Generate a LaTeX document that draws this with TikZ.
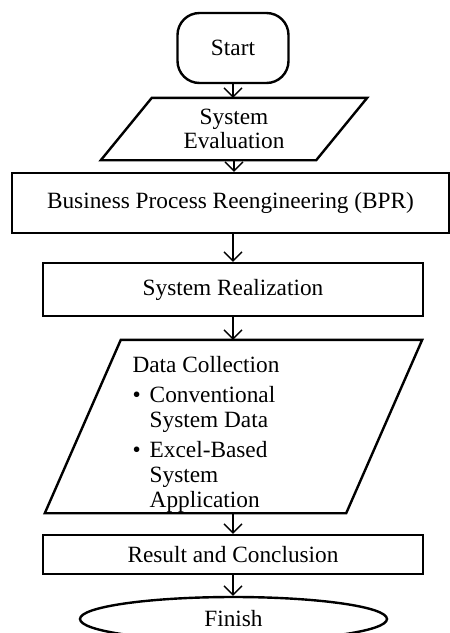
\documentclass[tikz,border=0pt]{standalone}
\usepackage{fontspec}
\setmainfont{Liberation Serif}
\usetikzlibrary{arrows.meta, shapes.geometric}

\begin{document}
\begin{tikzpicture}[x=1pt, y=-1pt,
        txt/.style={font=\fontsize{23.3}{27}\selectfont, align=center, inner sep=0pt},
        outline/.style={line width=2.4pt},
        box/.style={txt, draw, outline},
        arr/.style={-{Straight Barb[length=9pt, width=18pt]}, line width=1.3pt}]
    \useasboundingbox (0,0) rectangle (450,633);
    \node[box, rounded corners=22pt, minimum width=111pt, minimum height=70pt] (start) at (233,48) {Start};
    \node[txt, font=\fontsize{23.3}{24}\selectfont, minimum width=266pt, minimum height=62pt] (eval) at (234,129) {System\\Evaluation};
    \draw[outline] ([xshift=51pt]eval.north west) -- (eval.north east) -- ([xshift=-51pt]eval.south east) -- (eval.south west) -- cycle;
    \node[box, minimum width=437pt, minimum height=60pt] (bpr) at (230.5,203) {Business Process Reengineering (BPR)};
    \node[box, minimum width=380pt, minimum height=53pt] (real) at (233,289.5) {System Realization};
    \node[minimum width=377pt, minimum height=173pt, inner sep=0pt] (data) at (233.5,426.5) {};
    \draw[outline] ([xshift=76pt]data.north west) -- (data.north east) -- ([xshift=-76pt]data.south east) -- (data.south west) -- cycle;
    \node[txt, align=left, font=\fontsize{23.3}{25}\selectfont] (datatext) at (206,435) {%
        \begin{tabular}{@{}l@{\hspace{9pt}}l@{}}
            \multicolumn{2}{@{}l@{}}{Data Collection}\\[5pt]
            \textbullet & Conventional\\
                        & System Data\\[5pt]
            \textbullet & Excel-Based\\
                        & System\\
                        & Application
        \end{tabular}};
    \node[box, minimum width=380pt, minimum height=39pt] (res) at (233,554.5) {Result and Conclusion};
    \node[box, ellipse, minimum width=307pt, minimum height=44pt] (fin) at (233.5,619) {Finish};
    \draw[arr] (start.south) -- (start.south |- eval.north);
    \draw[arr] (eval.south) -- (eval.south |- bpr.north);
    \draw[arr] (real.north |- bpr.south) -- (real.north);
    \draw[arr] (real.south) -- (real.south |- data.north);
    \draw[arr] (res.north |- data.south) -- (res.north);
    \draw[arr] (res.south) -- (res.south |- fin.north);
\end{tikzpicture}
\end{document}
